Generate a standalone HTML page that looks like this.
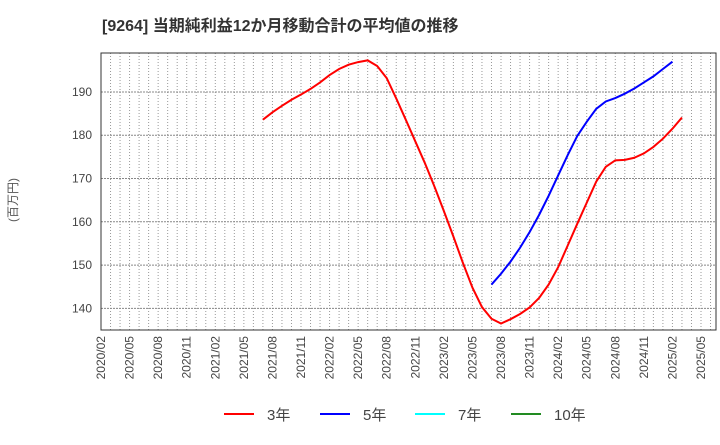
<!DOCTYPE html>
<html><head><meta charset="utf-8"><style>
body{margin:0;background:#fff;font-family:"Liberation Sans","Noto Sans CJK JP",sans-serif;}
</style></head><body>
<svg width="720" height="440" xmlns="http://www.w3.org/2000/svg" id="svg">
<text x="102" y="31" font-size="16" font-weight="bold" fill="#333" font-family="Liberation Sans, Noto Sans CJK JP, sans-serif">[9264]  当期純利益12か月移動合計の平均値の推移</text>
<text transform="translate(17,200) rotate(-90)" text-anchor="middle" font-size="12" fill="#555" font-family="Liberation Sans, Noto Sans CJK JP, sans-serif">(百万円)</text>
<g id="grid"></g><g id="axes"></g><g id="series"></g><g id="legend"></g>
</svg>
<script>
const yTicks=[140,150,160,170,180,190];
const xLabels=["2020/02","2020/05","2020/08","2020/11","2021/02","2021/05","2021/08","2021/11","2022/02","2022/05","2022/08","2022/11","2023/02","2023/05","2023/08","2023/11","2024/02","2024/05","2024/08","2024/11","2025/02","2025/05"];
const red3Start=17;
const red3=[183.6,185.3,186.8,188.2,189.4,190.7,192.2,193.9,195.3,196.3,196.9,197.3,196,193.2,188.5,183.6,178.6,173.6,168.2,162.5,156.6,150.5,144.8,140.3,137.6,136.5,137.5,138.7,140.2,142.4,145.5,149.5,154.5,159.5,164.4,169.3,172.7,174.2,174.3,174.8,175.8,177.3,179.2,181.5,184.1];
const blue5Start=41;
const blue5=[145.5,148,150.8,154,157.6,161.6,166,170.7,175.4,179.8,183.1,186.1,187.8,188.6,189.6,190.8,192.2,193.6,195.3,197];
const L=101,R=716,T=53,B=330,yMin=135,yMax=199,nMonths=63,axisEnd=701;
const ns="http://www.w3.org/2000/svg";
const X=m=>L+(axisEnd-L)*m/nMonths;
const Y=v=>B-(B-T)*(v-yMin)/(yMax-yMin);
function mk(tag,attrs,parent){const e=document.createElementNS(ns,tag);for(const k in attrs)e.setAttribute(k,attrs[k]);document.getElementById(parent).appendChild(e);return e;}
for(let m=1;X(m)<R;m++){
 const g=mk('line',{x1:X(m),x2:X(m),y1:T,y2:B,stroke:'#999','stroke-width':1,'stroke-dasharray':'1,2'},'grid');
 
 
}
yTicks.forEach(v=>{
 const g=mk('line',{x1:L,x2:R,y1:Y(v),y2:Y(v),stroke:'#888','stroke-width':1,'stroke-dasharray':'2,1'},'grid');
 
 
 const t=mk('text',{x:L-9,y:Y(v)+4,'text-anchor':'end','font-size':12,fill:'#444'},'axes');
 
 
 t.textContent=v;
});
xLabels.forEach((s,i)=>{
 const x=X(i*3);
 const t=mk('text',{transform:`translate(${x+4},${B+6}) rotate(-90)`,'text-anchor':'end','font-size':12,fill:'#444'},'axes');
 
 
 t.textContent=s;
});
const fr=mk('rect',{x:L,y:T,width:R-L,height:B-T,fill:'none',stroke:'#333','stroke-width':1},'axes');


function line(vals,start,color,name){
 const p=mk('polyline',{points:vals.map((v,i)=>X(start+i)+','+Y(v)).join(' '),fill:'none',stroke:color,'stroke-width':2},'series');
 
 
}
line(red3,red3Start,'#f00','series-3yr');
line(blue5,blue5Start,'#00f','series-5yr');
const leg=[["3年","#f00",224],["5年","#00f",320],["7年","#0ff",415],["10年","#228b22",511]];
leg.forEach(([lab,c,x])=>{
 const l=mk('line',{x1:x,x2:x+30,y1:414,y2:414,stroke:c,'stroke-width':2},'legend');
 
 
 const t=mk('text',{x:x+43,y:420,'font-size':15,fill:'#444'},'legend');
 
 
 t.textContent=lab;
});
</script>
</body></html>
